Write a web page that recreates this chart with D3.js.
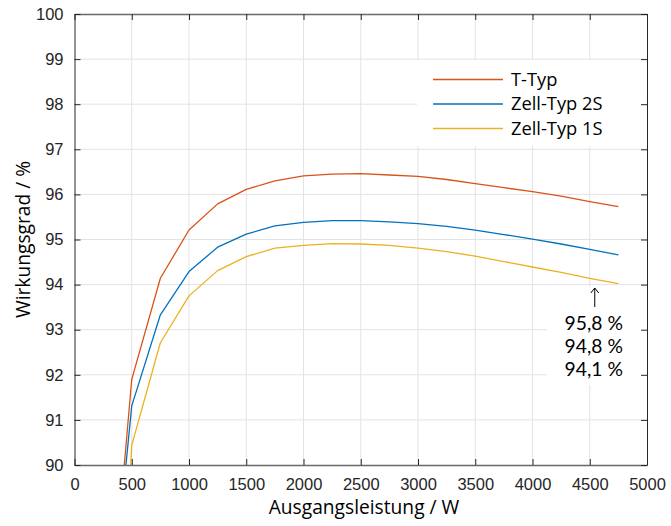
<!DOCTYPE html>
<html>
<head>
<meta charset="utf-8">
<script src="https://cdn.jsdelivr.net/npm/d3@7"></script>
<style>
  html, body { margin: 0; padding: 0; background: #fff; }
  svg { display: block; }
</style>
</head>
<body>
<svg id="chart" width="671" height="526"></svg>
<script>
// Ausgangsleistung in W
const power = [400, 500, 750, 1000, 1250, 1500, 1750, 2000, 2250, 2500, 2750, 3000, 3250, 3500, 3750, 4000, 4250, 4500, 4750];
// Wirkungsgrad in %
const tTyp     = [88.98, 91.90, 94.14, 95.21, 95.79, 96.11, 96.30, 96.41, 96.45, 96.46, 96.43, 96.40, 96.33, 96.24, 96.15, 96.06, 95.96, 95.84, 95.73];
const zell2S   = [88.74, 91.31, 93.33, 94.29, 94.83, 95.12, 95.30, 95.38, 95.42, 95.42, 95.39, 95.35, 95.29, 95.21, 95.11, 95.01, 94.90, 94.78, 94.66];
const zell1S   = [85.56, 90.44, 92.71, 93.75, 94.31, 94.62, 94.81, 94.87, 94.91, 94.90, 94.87, 94.81, 94.73, 94.63, 94.51, 94.39, 94.27, 94.14, 94.02];

const seriesNames  = ["T-Typ", "Zell-Typ 2S", "Zell-Typ 1S"];
const seriesColors = ["#D95319", "#0072BD", "#EDB120"];
const seriesValues = [tTyp, zell2S, zell1S];

const xTicks = [0, 500, 1000, 1500, 2000, 2500, 3000, 3500, 4000, 4500, 5000];
const yTicks = [90, 91, 92, 93, 94, 95, 96, 97, 98, 99, 100];

const markPower = 4500;
const markLabels = ["95,8 %", "94,8 %", "94,1 %"];

const xLabel = "Ausgangsleistung / W";
const yLabel = "Wirkungsgrad / %";

(function () {
  const svg = d3.select("#chart");
  const pLeft = 74.5, pRight = 647, pTop = 14, pBottom = 465;

  const x = d3.scaleLinear().domain([0, 5000]).range([pLeft, pRight]);
  const y = d3.scaleLinear().domain([90, 100]).range([pBottom, pTop]);

  const axisColor = "#262626";

  // Gitternetz
  const grid = svg.append("g").attr("stroke", "#e3e3e3").attr("stroke-width", 1);
  grid.selectAll("line.gx").data(xTicks.slice(1, -1)).join("line")
    .attr("x1", d => x(d)).attr("x2", d => x(d)).attr("y1", pTop).attr("y2", pBottom);
  grid.selectAll("line.gy").data(yTicks.slice(1, -1)).join("line")
    .attr("x1", pLeft).attr("x2", pRight).attr("y1", d => y(d)).attr("y2", d => y(d));

  // Kurven
  svg.append("clipPath").attr("id", "plotclip").append("rect")
    .attr("x", pLeft).attr("y", pTop).attr("width", pRight - pLeft).attr("height", pBottom - pTop);

  const line = d3.line().x(d => x(d[0])).y(d => y(d[1]));
  const curves = svg.append("g").attr("clip-path", "url(#plotclip)");
  seriesValues.forEach((vals, i) => {
    curves.append("path")
      .datum(power.map((p, j) => [p, vals[j]]))
      .attr("d", line)
      .attr("fill", "none")
      .attr("stroke", seriesColors[i])
      .attr("stroke-width", 1.3)
      .attr("stroke-linejoin", "round");
  });

  // Legende
  const legend = svg.append("g");
  legend.append("rect")
    .attr("x", 417).attr("y", 60).attr("width", 228).attr("height", 86)
    .attr("fill", "#fff");
  seriesNames.forEach((name, i) => {
    const ly = 79.5 + i * 24.5;
    legend.append("line")
      .attr("x1", 433).attr("x2", 503).attr("y1", ly).attr("y2", ly)
      .attr("stroke", seriesColors[i]).attr("stroke-width", 1.3);
    legend.append("text")
      .attr("x", 511).attr("y", ly + 6)
      .attr("font-family", "'Open Sans', sans-serif")
      .attr("font-size", 18.3)
      .attr("fill", "#000")
      .text(name);
  });

  // Beschriftung der Werte bei 4500 W
  const note = svg.append("g");
  const nx = x(markPower) + 5;
  note.append("rect")
    .attr("x", 547).attr("y", 287).attr("width", pRight - 547).attr("height", 98)
    .attr("fill", "#fff");
  note.append("path")
    .attr("d", `M${nx},288 L${nx},307 M${nx - 4},293 L${nx},288 L${nx + 4},293`)
    .attr("fill", "none").attr("stroke", "#000").attr("stroke-width", 1);
  markLabels.forEach((t, i) => {
    note.append("text")
      .attr("x", nx - 1).attr("y", 329.5 + i * 23.3)
      .attr("text-anchor", "middle")
      .attr("font-family", "Lato, sans-serif")
      .attr("font-size", 19.3)
      .attr("fill", "#000")
      .text(t);
  });

  // Achsen mit nach innen zeigenden Strichen
  const tickFont = "'Liberation Sans', Arial, sans-serif";
  const xAxisBottom = svg.append("g").attr("transform", `translate(0,${pBottom})`)
    .call(d3.axisBottom(x).tickValues(xTicks).tickFormat(d3.format("d")).tickSizeInner(-6).tickSizeOuter(0).tickPadding(13));
  const xAxisTop = svg.append("g").attr("transform", `translate(0,${pTop})`)
    .call(d3.axisTop(x).tickValues(xTicks).tickFormat("").tickSizeInner(-6).tickSizeOuter(0));
  const yAxisLeft = svg.append("g").attr("transform", `translate(${pLeft},0)`)
    .call(d3.axisLeft(y).tickValues(yTicks).tickFormat(d3.format("d")).tickSizeInner(-6).tickSizeOuter(0).tickPadding(11));
  const yAxisRight = svg.append("g").attr("transform", `translate(${pRight},0)`)
    .call(d3.axisRight(y).tickValues(yTicks).tickFormat("").tickSizeInner(-6).tickSizeOuter(0));

  [xAxisBottom, xAxisTop, yAxisLeft, yAxisRight].forEach(g => {
    g.select(".domain").attr("stroke", axisColor).attr("stroke-width", 1);
    g.selectAll(".tick line").attr("stroke", axisColor).attr("stroke-width", 1);
    g.selectAll(".tick text")
      .attr("font-family", tickFont).attr("font-size", 16.5).attr("fill", axisColor);
  });
  xAxisBottom.selectAll(".tick text").attr("dy", "0.71em");
  xAxisTop.select(".domain").attr("stroke", "#6a6a6a").attr("stroke-width", 1.5);
  xAxisBottom.select(".domain").attr("stroke", "#6a6a6a").attr("stroke-width", 1.5);

  // Achsentitel
  svg.append("text")
    .attr("x", 364).attr("y", 513.5)
    .attr("text-anchor", "middle")
    .attr("font-family", "'Open Sans', sans-serif")
    .attr("font-size", 19.2)
    .attr("fill", "#000")
    .text(xLabel);
  svg.append("text")
    .attr("transform", `translate(29.5,${(pTop + pBottom) / 2}) rotate(-90)`)
    .attr("text-anchor", "middle")
    .attr("font-family", "'Open Sans', sans-serif")
    .attr("font-size", 19.2)
    .attr("fill", "#000")
    .text(yLabel);
})();
</script>
</body>
</html>
